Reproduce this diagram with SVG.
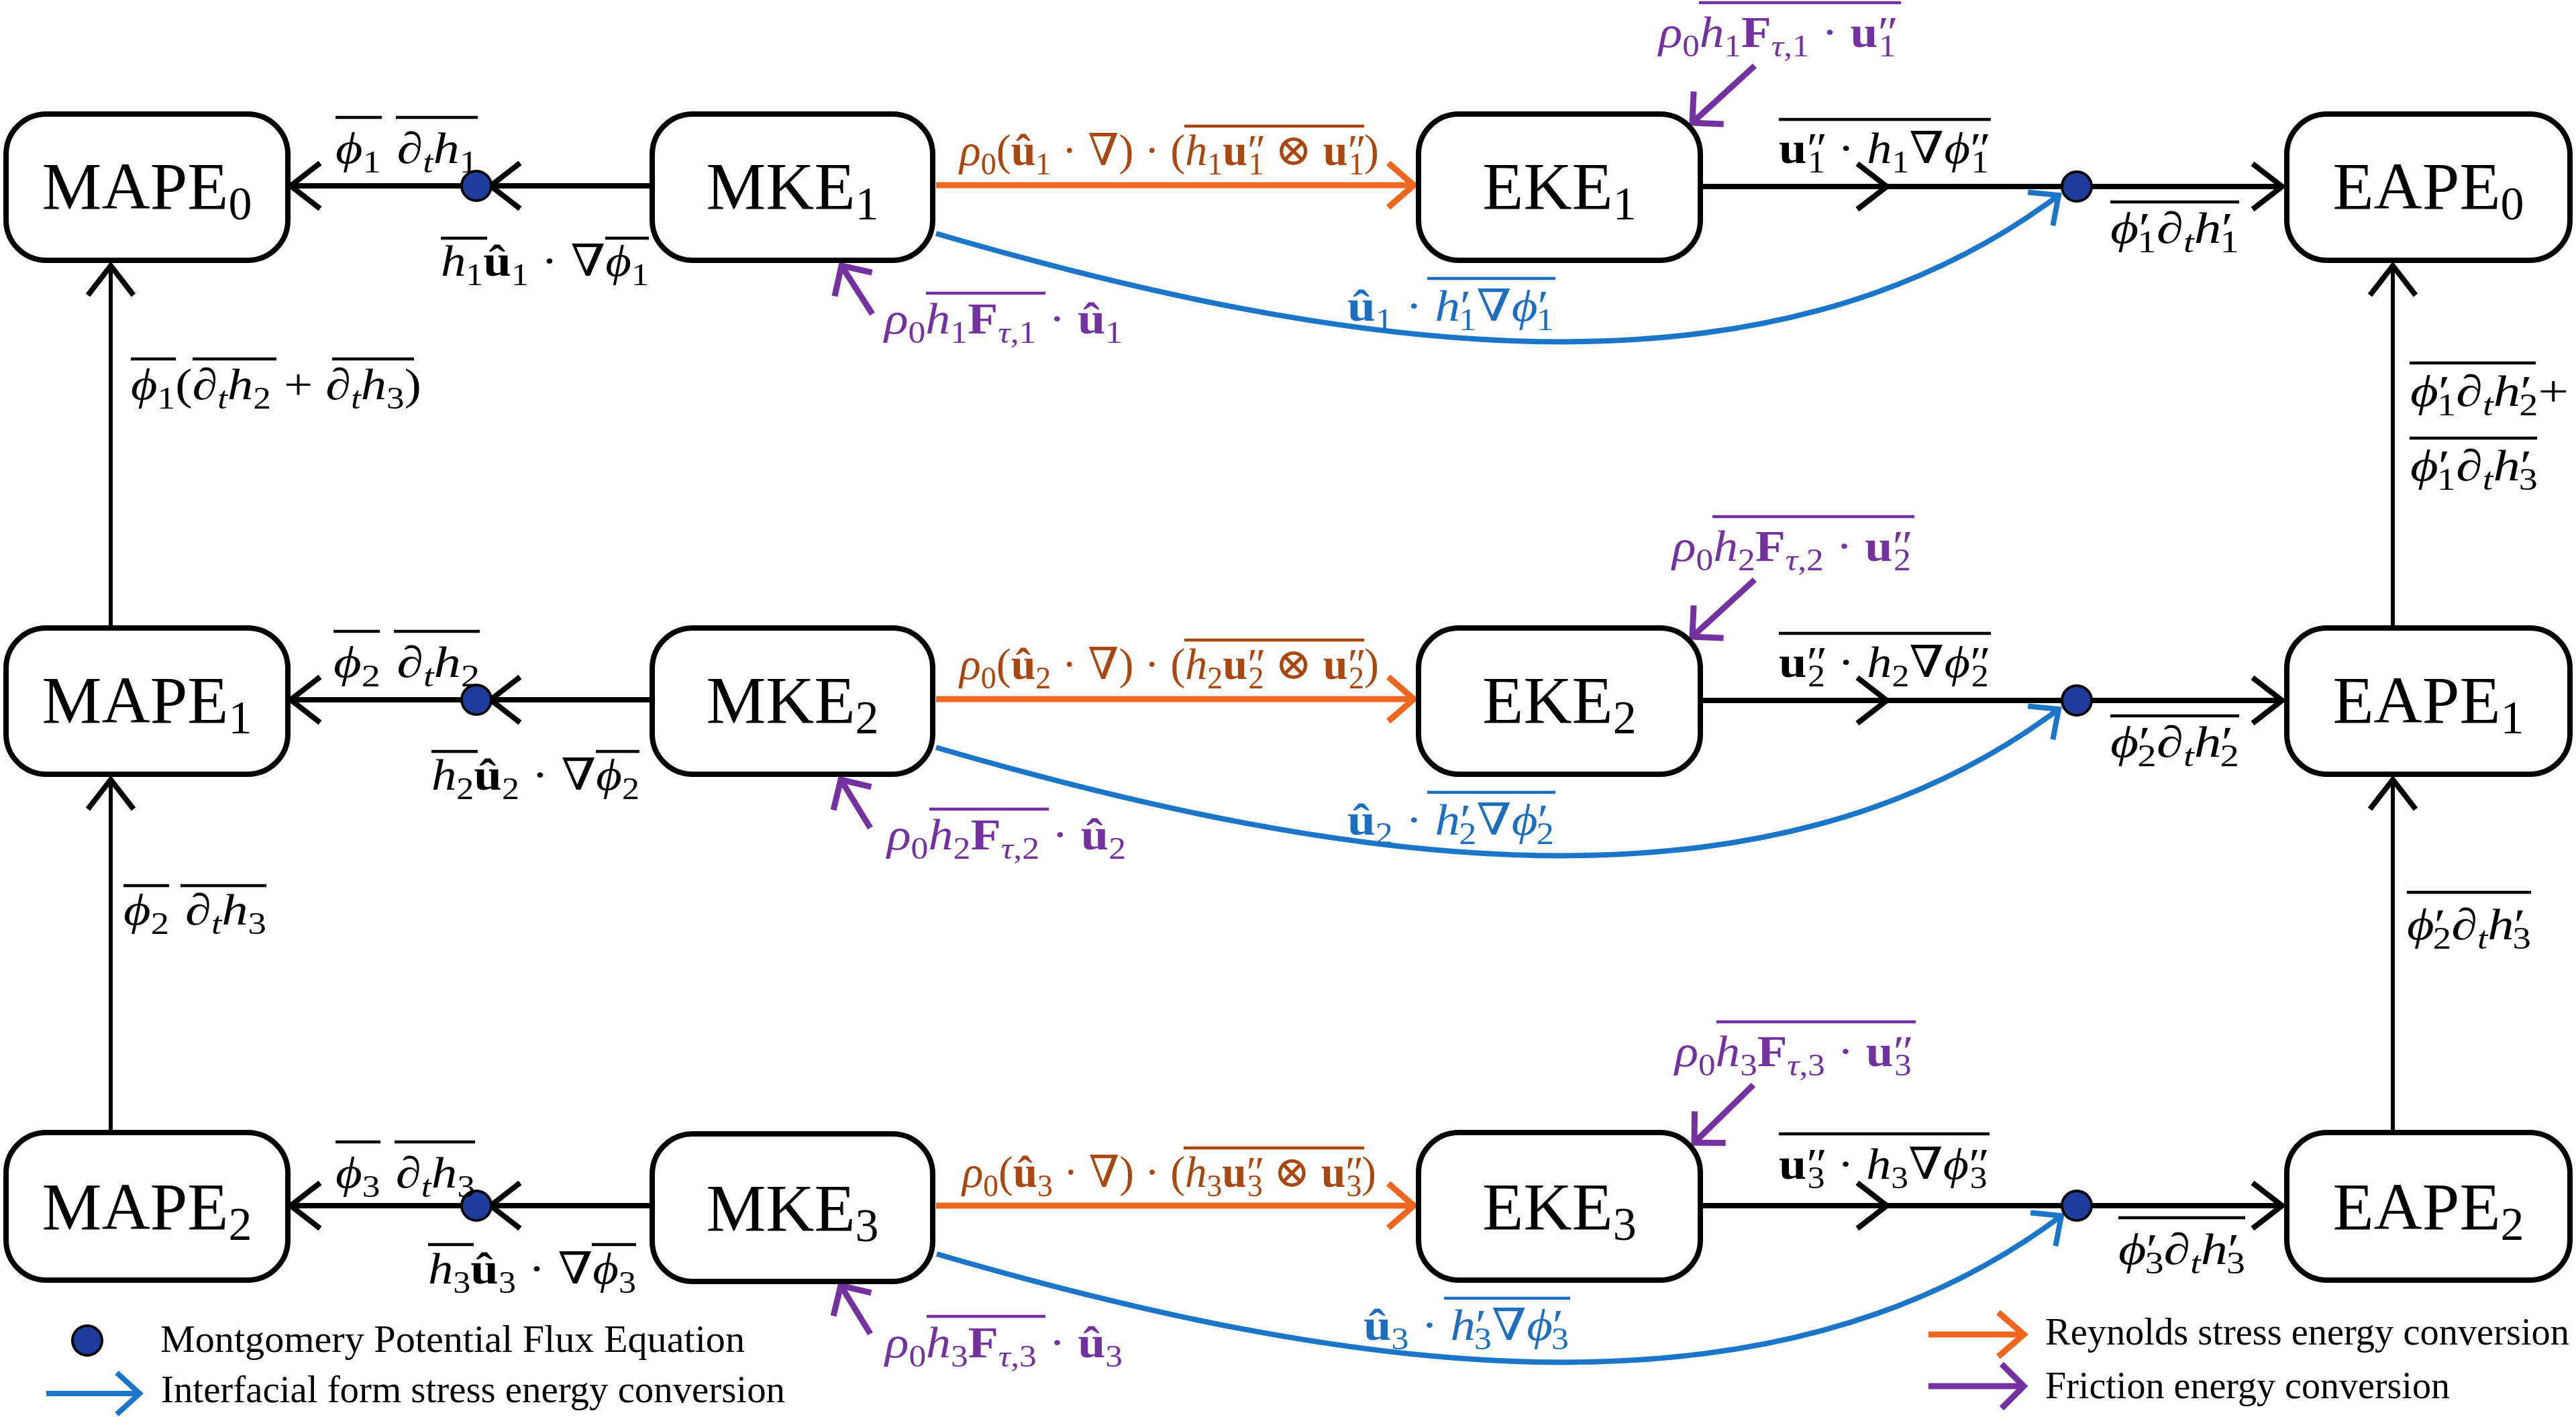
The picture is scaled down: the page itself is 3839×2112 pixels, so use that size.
<svg xmlns="http://www.w3.org/2000/svg" width="3839" height="2112" viewBox="0 0 3839 2112">
<style>
.box{fill:#fff;stroke:#000;stroke-width:8}
.nt{font-family:"Liberation Serif","DejaVu Serif",serif;font-size:100px;text-anchor:middle;fill:#000}
.ns{font-size:70px}
.m{font-family:"Liberation Serif","DejaVu Serif",serif;font-size:66px;fill:#000}
.it{font-style:italic}
.bf{font-weight:bold}
.sb{font-size:46px}
.co{fill:#a8470f}
.cp{fill:#7432a0}
.cb{fill:#1e6ebf}
.ol{stroke-width:4.5;fill:none}
.olk{stroke:#000}.olo{stroke:#a8470f}.olp{stroke:#7432a0}.olb{stroke:#1e6ebf}
.lk{fill:none;stroke:#000;stroke-width:8}
.lv{fill:none;stroke:#000;stroke-width:6}
.lo{fill:none;stroke:#f0661f;stroke-width:9}
.lb{fill:none;stroke:#1b75c8;stroke-width:8}
.lp{fill:none;stroke:#7432a0;stroke-width:9}
.dot{fill:#1d3c9c;stroke:#000;stroke-width:4}
.lg{font-family:"Liberation Serif","DejaVu Serif",serif;font-size:56px;fill:#000}
</style>
<defs>
<marker id="ak" viewBox="-60 -60 120 120" markerWidth="120" markerHeight="120" markerUnits="userSpaceOnUse" refX="0" refY="0" orient="auto" overflow="visible"><path d="M-44,-34 L0,0 L-44,34" fill="none" stroke="#000" stroke-width="8"/></marker>
<marker id="ao" viewBox="-60 -60 120 120" markerWidth="120" markerHeight="120" markerUnits="userSpaceOnUse" refX="0" refY="0" orient="auto" overflow="visible"><path d="M-38,-33 L0,0 L-38,33" fill="none" stroke="#f0661f" stroke-width="9"/></marker>
<marker id="ab" viewBox="-60 -60 120 120" markerWidth="120" markerHeight="120" markerUnits="userSpaceOnUse" refX="0" refY="0" orient="auto" overflow="visible"><path d="M-34,-31 L0,0 L-34,31" fill="none" stroke="#1b75c8" stroke-width="8"/></marker>
<marker id="ap" viewBox="-60 -60 120 120" markerWidth="120" markerHeight="120" markerUnits="userSpaceOnUse" refX="0" refY="0" orient="auto" overflow="visible"><path d="M-33,-33 L0,0 L-33,33" fill="none" stroke="#7432a0" stroke-width="9"/></marker>
</defs>
<rect width="3839" height="2112" fill="#fff"/>

<g id="connectors">
<!-- vertical -->
<path class="lv" d="M165,932 L165,396" marker-end="url(#ak)"/>
<path class="lv" d="M165,1684 L165,1162" marker-end="url(#ak)"/>
<path class="lv" d="M3566,932 L3566,396" marker-end="url(#ak)"/>
<path class="lv" d="M3566,1684 L3566,1162" marker-end="url(#ak)"/>
<!-- MKE -> MAPE -->
<path class="lk" d="M968,277 L731,277 L433,277" marker-mid="url(#ak)" marker-end="url(#ak)"/>
<path class="lk" d="M968,1043 L731,1043 L433,1043" marker-mid="url(#ak)" marker-end="url(#ak)"/>
<path class="lk" d="M968,1797 L731,1797 L433,1797" marker-mid="url(#ak)" marker-end="url(#ak)"/>
<!-- EKE -> EAPE -->
<path class="lk" d="M2538,278 L2812,278 L3401,278" marker-mid="url(#ak)" marker-end="url(#ak)"/>
<path class="lk" d="M2538,1044 L2812,1044 L3401,1044" marker-mid="url(#ak)" marker-end="url(#ak)"/>
<path class="lk" d="M2538,1797 L2812,1797 L3401,1797" marker-mid="url(#ak)" marker-end="url(#ak)"/>
<!-- orange MKE -> EKE -->
<path class="lo" d="M1395,276 L2107,276" marker-end="url(#ao)"/>
<path class="lo" d="M1395,1042 L2107,1042" marker-end="url(#ao)"/>
<path class="lo" d="M1395,1797 L2107,1797" marker-end="url(#ao)"/>
<!-- blue interfacial -->
<path class="lb" d="M1395,348 C2019,530 2636,615 3068,291" marker-end="url(#ab)"/>
<path class="lb" d="M1395,1114 C2019,1296 2636,1381 3068,1057" marker-end="url(#ab)"/>
<path class="lb" d="M1396,1869 C2020,2051 2640,2136 3072,1812" marker-end="url(#ab)"/>
<!-- purple friction -->
<path class="lp" d="M1300,468 L1254,396" marker-end="url(#ap)"/>
<path class="lp" d="M1297,1234 L1253,1162" marker-end="url(#ap)"/>
<path class="lp" d="M1297,1988 L1253,1916" marker-end="url(#ap)"/>
<path class="lp" d="M2615,98 L2522,183" marker-end="url(#ap)"/>
<path class="lp" d="M2615,864 L2522,949" marker-end="url(#ap)"/>
<path class="lp" d="M2613,1617 L2525,1703" marker-end="url(#ap)"/>
<!-- flux dots -->
<circle class="dot" cx="710" cy="277" r="22"/>
<circle class="dot" cx="710" cy="1043" r="22"/>
<circle class="dot" cx="710" cy="1797" r="22"/>
<circle class="dot" cx="3095" cy="278" r="22"/>
<circle class="dot" cx="3095" cy="1044" r="22"/>
<circle class="dot" cx="3095" cy="1797" r="22"/>
</g>

<g id="MAPE0"><rect class="box" x="9" y="170" width="420" height="218" rx="60"/><text class="nt" x="219" y="311">MAPE<tspan class="ns" dy="16">0</tspan></text></g>
<g id="MKE1"><rect class="box" x="972" y="170" width="418" height="218" rx="60"/><text class="nt" x="1181" y="311">MKE<tspan class="ns" dy="16">1</tspan></text></g>
<g id="EKE1"><rect class="box" x="2114" y="170" width="420" height="218" rx="60"/><text class="nt" x="2324" y="311">EKE<tspan class="ns" dy="16">1</tspan></text></g>
<g id="EAPE0"><rect class="box" x="3408" y="170" width="422" height="218" rx="60"/><text class="nt" x="3619" y="311">EAPE<tspan class="ns" dy="16">0</tspan></text></g>

<g id="MAPE1"><rect class="box" x="9" y="936" width="420" height="218" rx="60"/><text class="nt" x="219" y="1077">MAPE<tspan class="ns" dy="16">1</tspan></text></g>
<g id="MKE2"><rect class="box" x="972" y="936" width="418" height="218" rx="60"/><text class="nt" x="1181" y="1077">MKE<tspan class="ns" dy="16">2</tspan></text></g>
<g id="EKE2"><rect class="box" x="2114" y="936" width="420" height="218" rx="60"/><text class="nt" x="2324" y="1077">EKE<tspan class="ns" dy="16">2</tspan></text></g>
<g id="EAPE1"><rect class="box" x="3408" y="936" width="422" height="218" rx="60"/><text class="nt" x="3619" y="1077">EAPE<tspan class="ns" dy="16">1</tspan></text></g>

<g id="MAPE2"><rect class="box" x="9" y="1688" width="420" height="220" rx="60"/><text class="nt" x="219" y="1832">MAPE<tspan class="ns" dy="16">2</tspan></text></g>
<g id="MKE3"><rect class="box" x="972" y="1690" width="418" height="220" rx="60"/><text class="nt" x="1181" y="1834">MKE<tspan class="ns" dy="16">3</tspan></text></g>
<g id="EKE3"><rect class="box" x="2114" y="1688" width="420" height="220" rx="60"/><text class="nt" x="2324" y="1832">EKE<tspan class="ns" dy="16">3</tspan></text></g>
<g id="EAPE2"><rect class="box" x="3408" y="1688" width="422" height="220" rx="60"/><text class="nt" x="3619" y="1832">EAPE<tspan class="ns" dy="16">2</tspan></text></g>

<g id="labels">
<!-- Row 1 -->
<text class="m" x="500" y="243" textLength="212" lengthAdjust="spacingAndGlyphs"><tspan class="it">ϕ</tspan><tspan class="sb" dy="14">1</tspan><tspan class="it" dx="20" dy="-14">∂</tspan><tspan class="sb it" dy="14">t</tspan><tspan class="it" dy="-14">h</tspan><tspan class="sb" dy="14">1</tspan></text>
<path class="ol olk" d="M500,175 H569 M590,175 H712"/>
<text class="m" x="657" y="411" textLength="310" lengthAdjust="spacingAndGlyphs"><tspan class="it">h</tspan><tspan class="sb" dy="14">1</tspan><tspan class="bf" dy="-14">û</tspan><tspan class="sb" dy="14">1</tspan><tspan dy="-14"> · ∇</tspan><tspan class="it">ϕ</tspan><tspan class="sb" dy="14">1</tspan></text>
<path class="ol olk" d="M657,355 H726 M902,355 H967"/>
<text class="m co" x="1430" y="246" textLength="625" lengthAdjust="spacingAndGlyphs"><tspan class="it">ρ</tspan><tspan class="sb" dy="14">0</tspan><tspan dy="-14">(</tspan><tspan class="bf">û</tspan><tspan class="sb" dy="14">1</tspan><tspan dy="-14"> · ∇) · (</tspan><tspan class="it">h</tspan><tspan class="sb" dy="14">1</tspan><tspan class="bf" dy="-14">u</tspan><tspan>″</tspan><tspan class="sb" dx="-26" dy="14">1</tspan><tspan dy="-14"> ⊗ </tspan><tspan class="bf">u</tspan><tspan>″</tspan><tspan class="sb" dx="-26" dy="14">1</tspan><tspan dy="-14">)</tspan></text>
<path class="ol olo" d="M1765,188 H2033"/>
<text class="m cp" x="1318" y="497" textLength="355" lengthAdjust="spacingAndGlyphs"><tspan class="it">ρ</tspan><tspan class="sb" dy="14">0</tspan><tspan class="it" dy="-14">h</tspan><tspan class="sb" dy="14">1</tspan><tspan class="bf" dy="-14">F</tspan><tspan class="sb" dy="14"><tspan class="it">τ</tspan>,1</tspan><tspan dy="-14"> · </tspan><tspan class="bf">û</tspan><tspan class="sb" dy="14">1</tspan></text>
<path class="ol olp" d="M1380,437 H1558"/>
<text class="m cp" x="2472" y="70" textLength="357" lengthAdjust="spacingAndGlyphs"><tspan class="it">ρ</tspan><tspan class="sb" dy="14">0</tspan><tspan class="it" dy="-14">h</tspan><tspan class="sb" dy="14">1</tspan><tspan class="bf" dy="-14">F</tspan><tspan class="sb" dy="14"><tspan class="it">τ</tspan>,1</tspan><tspan dy="-14"> · </tspan><tspan class="bf">u</tspan><tspan>″</tspan><tspan class="sb" dx="-26" dy="14">1</tspan></text>
<path class="ol olp" d="M2532,4 H2833"/>
<text class="m" x="2651" y="243" textLength="316" lengthAdjust="spacingAndGlyphs"><tspan class="bf">u</tspan><tspan>″</tspan><tspan class="sb" dx="-26" dy="14">1</tspan><tspan dy="-14"> · </tspan><tspan class="it">h</tspan><tspan class="sb" dy="14">1</tspan><tspan dy="-14">∇</tspan><tspan class="it">ϕ</tspan><tspan>″</tspan><tspan class="sb" dx="-26" dy="14">1</tspan></text>
<path class="ol olk" d="M2651,178 H2967"/>
<text class="m" x="3145" y="362" textLength="192" lengthAdjust="spacingAndGlyphs"><tspan class="it">ϕ</tspan><tspan>′</tspan><tspan class="sb" dx="-16" dy="14">1</tspan><tspan class="it" dy="-14">∂</tspan><tspan class="sb it" dy="14">t</tspan><tspan class="it" dy="-14">h</tspan><tspan>′</tspan><tspan class="sb" dx="-16" dy="14">1</tspan></text>
<path class="ol olk" d="M3145,301 H3337"/>
<text class="m cb" x="2008" y="478" textLength="308" lengthAdjust="spacingAndGlyphs"><tspan class="bf">û</tspan><tspan class="sb" dy="14">1</tspan><tspan dy="-14"> · </tspan><tspan class="it">h</tspan><tspan>′</tspan><tspan class="sb" dx="-16" dy="14">1</tspan><tspan dy="-14">∇</tspan><tspan class="it">ϕ</tspan><tspan>′</tspan><tspan class="sb" dx="-16" dy="14">1</tspan></text>
<path class="ol olb" d="M2127,415 H2318"/>
<text class="m" x="195" y="595" textLength="433" lengthAdjust="spacingAndGlyphs"><tspan class="it">ϕ</tspan><tspan class="sb" dy="14">1</tspan><tspan dy="-14">(</tspan><tspan class="it">∂</tspan><tspan class="sb it" dy="14">t</tspan><tspan class="it" dy="-14">h</tspan><tspan class="sb" dy="14">2</tspan><tspan dy="-14"> + </tspan><tspan class="it">∂</tspan><tspan class="sb it" dy="14">t</tspan><tspan class="it" dy="-14">h</tspan><tspan class="sb" dy="14">3</tspan><tspan dy="-14">)</tspan></text>
<path class="ol olk" d="M195,535 H262 M287,535 H412 M495,535 H617"/>
<text class="m" x="3592" y="605" textLength="236" lengthAdjust="spacingAndGlyphs"><tspan class="it">ϕ</tspan><tspan>′</tspan><tspan class="sb" dx="-16" dy="14">1</tspan><tspan class="it" dy="-14">∂</tspan><tspan class="sb it" dy="14">t</tspan><tspan class="it" dy="-14">h</tspan><tspan>′</tspan><tspan class="sb" dx="-16" dy="14">2</tspan><tspan dy="-14">+</tspan></text>
<path class="ol olk" d="M3591,541 H3779"/>
<text class="m" x="3592" y="716" textLength="190" lengthAdjust="spacingAndGlyphs"><tspan class="it">ϕ</tspan><tspan>′</tspan><tspan class="sb" dx="-16" dy="14">1</tspan><tspan class="it" dy="-14">∂</tspan><tspan class="sb it" dy="14">t</tspan><tspan class="it" dy="-14">h</tspan><tspan>′</tspan><tspan class="sb" dx="-16" dy="14">3</tspan></text>
<path class="ol olk" d="M3591,653 H3781"/>

<!-- Row 2 -->
<text class="m" x="497" y="1009" textLength="218" lengthAdjust="spacingAndGlyphs"><tspan class="it">ϕ</tspan><tspan class="sb" dy="14">2</tspan><tspan class="it" dx="20" dy="-14">∂</tspan><tspan class="sb it" dy="14">t</tspan><tspan class="it" dy="-14">h</tspan><tspan class="sb" dy="14">2</tspan></text>
<path class="ol olk" d="M497,941 H566 M587,941 H715"/>
<text class="m" x="643" y="1177" textLength="310" lengthAdjust="spacingAndGlyphs"><tspan class="it">h</tspan><tspan class="sb" dy="14">2</tspan><tspan class="bf" dy="-14">û</tspan><tspan class="sb" dy="14">2</tspan><tspan dy="-14"> · ∇</tspan><tspan class="it">ϕ</tspan><tspan class="sb" dy="14">2</tspan></text>
<path class="ol olk" d="M643,1120 H712 M888,1120 H953"/>
<text class="m co" x="1430" y="1012" textLength="625" lengthAdjust="spacingAndGlyphs"><tspan class="it">ρ</tspan><tspan class="sb" dy="14">0</tspan><tspan dy="-14">(</tspan><tspan class="bf">û</tspan><tspan class="sb" dy="14">2</tspan><tspan dy="-14"> · ∇) · (</tspan><tspan class="it">h</tspan><tspan class="sb" dy="14">2</tspan><tspan class="bf" dy="-14">u</tspan><tspan>″</tspan><tspan class="sb" dx="-26" dy="14">2</tspan><tspan dy="-14"> ⊗ </tspan><tspan class="bf">u</tspan><tspan>″</tspan><tspan class="sb" dx="-26" dy="14">2</tspan><tspan dy="-14">)</tspan></text>
<path class="ol olo" d="M1765,954 H2033"/>
<text class="m cp" x="1322" y="1266" textLength="356" lengthAdjust="spacingAndGlyphs"><tspan class="it">ρ</tspan><tspan class="sb" dy="14">0</tspan><tspan class="it" dy="-14">h</tspan><tspan class="sb" dy="14">2</tspan><tspan class="bf" dy="-14">F</tspan><tspan class="sb" dy="14"><tspan class="it">τ</tspan>,2</tspan><tspan dy="-14"> · </tspan><tspan class="bf">û</tspan><tspan class="sb" dy="14">2</tspan></text>
<path class="ol olp" d="M1385,1206 H1563"/>
<text class="m cp" x="2492" y="836" textLength="359" lengthAdjust="spacingAndGlyphs"><tspan class="it">ρ</tspan><tspan class="sb" dy="14">0</tspan><tspan class="it" dy="-14">h</tspan><tspan class="sb" dy="14">2</tspan><tspan class="bf" dy="-14">F</tspan><tspan class="sb" dy="14"><tspan class="it">τ</tspan>,2</tspan><tspan dy="-14"> · </tspan><tspan class="bf">u</tspan><tspan>″</tspan><tspan class="sb" dx="-26" dy="14">2</tspan></text>
<path class="ol olp" d="M2552,770 H2853"/>
<text class="m" x="2651" y="1009" textLength="316" lengthAdjust="spacingAndGlyphs"><tspan class="bf">u</tspan><tspan>″</tspan><tspan class="sb" dx="-26" dy="14">2</tspan><tspan dy="-14"> · </tspan><tspan class="it">h</tspan><tspan class="sb" dy="14">2</tspan><tspan dy="-14">∇</tspan><tspan class="it">ϕ</tspan><tspan>″</tspan><tspan class="sb" dx="-26" dy="14">2</tspan></text>
<path class="ol olk" d="M2651,944 H2967"/>
<text class="m" x="3145" y="1128" textLength="192" lengthAdjust="spacingAndGlyphs"><tspan class="it">ϕ</tspan><tspan>′</tspan><tspan class="sb" dx="-16" dy="14">2</tspan><tspan class="it" dy="-14">∂</tspan><tspan class="sb it" dy="14">t</tspan><tspan class="it" dy="-14">h</tspan><tspan>′</tspan><tspan class="sb" dx="-16" dy="14">2</tspan></text>
<path class="ol olk" d="M3145,1067 H3337"/>
<text class="m cb" x="2008" y="1244" textLength="308" lengthAdjust="spacingAndGlyphs"><tspan class="bf">û</tspan><tspan class="sb" dy="14">2</tspan><tspan dy="-14"> · </tspan><tspan class="it">h</tspan><tspan>′</tspan><tspan class="sb" dx="-16" dy="14">2</tspan><tspan dy="-14">∇</tspan><tspan class="it">ϕ</tspan><tspan>′</tspan><tspan class="sb" dx="-16" dy="14">2</tspan></text>
<path class="ol olb" d="M2127,1181 H2318"/>
<text class="m" x="184" y="1378" textLength="213" lengthAdjust="spacingAndGlyphs"><tspan class="it">ϕ</tspan><tspan class="sb" dy="14">2</tspan><tspan class="it" dx="20" dy="-14">∂</tspan><tspan class="sb it" dy="14">t</tspan><tspan class="it" dy="-14">h</tspan><tspan class="sb" dy="14">3</tspan></text>
<path class="ol olk" d="M184,1320 H252 M269,1320 H397"/>
<text class="m" x="3587" y="1400" textLength="185" lengthAdjust="spacingAndGlyphs"><tspan class="it">ϕ</tspan><tspan>′</tspan><tspan class="sb" dx="-16" dy="14">2</tspan><tspan class="it" dy="-14">∂</tspan><tspan class="sb it" dy="14">t</tspan><tspan class="it" dy="-14">h</tspan><tspan>′</tspan><tspan class="sb" dx="-16" dy="14">3</tspan></text>
<path class="ol olk" d="M3587,1330 H3772"/>

<!-- Row 3 -->
<text class="m" x="500" y="1770" textLength="208" lengthAdjust="spacingAndGlyphs"><tspan class="it">ϕ</tspan><tspan class="sb" dy="14">3</tspan><tspan class="it" dx="20" dy="-14">∂</tspan><tspan class="sb it" dy="14">t</tspan><tspan class="it" dy="-14">h</tspan><tspan class="sb" dy="14">3</tspan></text>
<path class="ol olk" d="M500,1702 H567 M588,1702 H708"/>
<text class="m" x="638" y="1913" textLength="310" lengthAdjust="spacingAndGlyphs"><tspan class="it">h</tspan><tspan class="sb" dy="14">3</tspan><tspan class="bf" dy="-14">û</tspan><tspan class="sb" dy="14">3</tspan><tspan dy="-14"> · ∇</tspan><tspan class="it">ϕ</tspan><tspan class="sb" dy="14">3</tspan></text>
<path class="ol olk" d="M638,1855 H706 M882,1855 H948"/>
<text class="m co" x="1434" y="1769" textLength="617" lengthAdjust="spacingAndGlyphs"><tspan class="it">ρ</tspan><tspan class="sb" dy="14">0</tspan><tspan dy="-14">(</tspan><tspan class="bf">û</tspan><tspan class="sb" dy="14">3</tspan><tspan dy="-14"> · ∇) · (</tspan><tspan class="it">h</tspan><tspan class="sb" dy="14">3</tspan><tspan class="bf" dy="-14">u</tspan><tspan>″</tspan><tspan class="sb" dx="-26" dy="14">3</tspan><tspan dy="-14"> ⊗ </tspan><tspan class="bf">u</tspan><tspan>″</tspan><tspan class="sb" dx="-26" dy="14">3</tspan><tspan dy="-14">)</tspan></text>
<path class="ol olo" d="M1764,1711 H2033"/>
<text class="m cp" x="1319" y="2023" textLength="354" lengthAdjust="spacingAndGlyphs"><tspan class="it">ρ</tspan><tspan class="sb" dy="14">0</tspan><tspan class="it" dy="-14">h</tspan><tspan class="sb" dy="14">3</tspan><tspan class="bf" dy="-14">F</tspan><tspan class="sb" dy="14"><tspan class="it">τ</tspan>,3</tspan><tspan dy="-14"> · </tspan><tspan class="bf">û</tspan><tspan class="sb" dy="14">3</tspan></text>
<path class="ol olp" d="M1381,1962 H1558"/>
<text class="m cp" x="2496" y="1589" textLength="356" lengthAdjust="spacingAndGlyphs"><tspan class="it">ρ</tspan><tspan class="sb" dy="14">0</tspan><tspan class="it" dy="-14">h</tspan><tspan class="sb" dy="14">3</tspan><tspan class="bf" dy="-14">F</tspan><tspan class="sb" dy="14"><tspan class="it">τ</tspan>,3</tspan><tspan dy="-14"> · </tspan><tspan class="bf">u</tspan><tspan>″</tspan><tspan class="sb" dx="-26" dy="14">3</tspan></text>
<path class="ol olp" d="M2558,1523 H2855"/>
<text class="m" x="2651" y="1757" textLength="314" lengthAdjust="spacingAndGlyphs"><tspan class="bf">u</tspan><tspan>″</tspan><tspan class="sb" dx="-26" dy="14">3</tspan><tspan dy="-14"> · </tspan><tspan class="it">h</tspan><tspan class="sb" dy="14">3</tspan><tspan dy="-14">∇</tspan><tspan class="it">ϕ</tspan><tspan>″</tspan><tspan class="sb" dx="-26" dy="14">3</tspan></text>
<path class="ol olk" d="M2651,1690 H2965"/>
<text class="m" x="3157" y="1884" textLength="189" lengthAdjust="spacingAndGlyphs"><tspan class="it">ϕ</tspan><tspan>′</tspan><tspan class="sb" dx="-16" dy="14">3</tspan><tspan class="it" dy="-14">∂</tspan><tspan class="sb it" dy="14">t</tspan><tspan class="it" dy="-14">h</tspan><tspan>′</tspan><tspan class="sb" dx="-16" dy="14">3</tspan></text>
<path class="ol olk" d="M3157,1815 H3346"/>
<text class="m cb" x="2032" y="1997" textLength="306" lengthAdjust="spacingAndGlyphs"><tspan class="bf">û</tspan><tspan class="sb" dy="14">3</tspan><tspan dy="-14"> · </tspan><tspan class="it">h</tspan><tspan>′</tspan><tspan class="sb" dx="-16" dy="14">3</tspan><tspan dy="-14">∇</tspan><tspan class="it">ϕ</tspan><tspan>′</tspan><tspan class="sb" dx="-16" dy="14">3</tspan></text>
<path class="ol olb" d="M2152,1935 H2340"/>
</g>

<g id="legend">
<circle class="dot" cx="130" cy="1998" r="22"/>
<text class="lg" x="239" y="2015" textLength="871" lengthAdjust="spacingAndGlyphs">Montgomery Potential Flux Equation</text>
<path class="lb" d="M69,2077 L208,2077" marker-end="url(#ab)"/>
<text class="lg" x="240" y="2090" textLength="930" lengthAdjust="spacingAndGlyphs">Interfacial form stress energy conversion</text>
<path class="lo" d="M2874,1989 L3016,1989" marker-end="url(#ao)"/>
<text class="lg" x="3048" y="2004" textLength="781" lengthAdjust="spacingAndGlyphs">Reynolds stress energy conversion</text>
<path class="lp" d="M2874,2066 L3016,2066" marker-end="url(#ap)"/>
<text class="lg" x="3048" y="2084" textLength="603" lengthAdjust="spacingAndGlyphs">Friction energy conversion</text>
</g>
</svg>
